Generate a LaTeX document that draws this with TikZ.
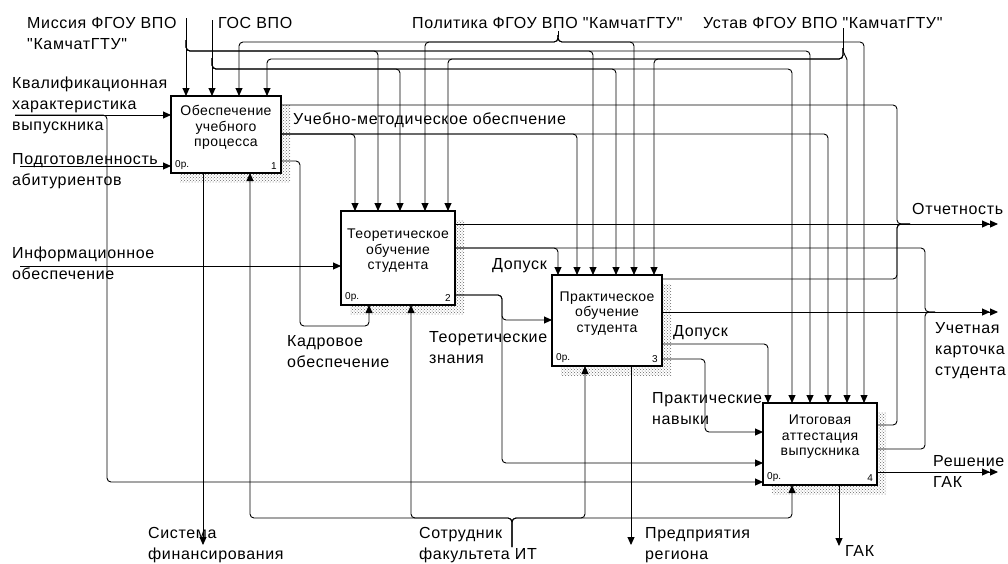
\documentclass[tikz,border=0pt]{standalone}
\usepackage{fontspec}
\newfontfamily\lsans{Liberation Sans}
\usetikzlibrary{arrows.meta}
\usetikzlibrary{patterns}

\tikzset{
  lbl/.style={anchor=north west, inner sep=0pt, align=left, font=\lsans\fontsize{16}{21}\selectfont\addfontfeature{LetterSpace=4}},
  con/.style={line width=0.9pt, rounded corners=4pt},
  arr/.style={con, -{Triangle[length=8pt,width=7pt]}},
  rarr/.style={con, {Triangle[length=8pt,width=7pt]}-},
  outarr/.style={con, -{Triangle[length=8pt,width=7pt]Triangle[length=8pt,width=7pt]}},
  act/.style={draw, line width=2pt, fill=white, inner sep=0pt, outer sep=0pt},
  acttext/.style={align=center, inner sep=0pt, font=\lsans\fontsize{14}{15.5}\selectfont\addfontfeature{LetterSpace=3}},
  corner/.style={inner sep=0pt, font=\lsans\fontsize{10}{10}\selectfont},
  shadow/.style={pattern=crosshatch dots, pattern color=black!60},
}

\begin{document}
\begin{tikzpicture}[x=1pt, y=-1pt]
\useasboundingbox (0,0) rectangle (1008,563);

% blocs
\foreach \n/\xa/\ya/\xb/\yb/\txt in {
  1/171/96/281/173/{Обеспечение\\учебного\\процесса},
  2/341/211/455/305/{Теоретическое\\обучение\\студента},
  3/552/275/662/366/{Практическое\\обучение\\студента},
  4/763/403/877/485/{Итоговая\\аттестация\\выпускника}} {
  \fill[shadow] (\xa+9,\ya+9) rectangle (\xb+9,\yb+9);
  \pgfmathsetmacro{\w}{\xb-\xa}
  \pgfmathsetmacro{\h}{\yb-\ya}
  \node[act, minimum width=\w pt, minimum height=\h pt] (b\n) at ({(\xa+\xb)/2},{(\ya+\yb)/2}) {};
  \node[acttext] (t\n) at ([yshift=7pt]b\n.center) {\txt};
  \node[corner, anchor=south west] (c\n) at ([xshift=4pt,yshift=3pt]b\n.south west) {0р.};
  \node[corner, anchor=south east] (n\n) at ([xshift=-4pt,yshift=3pt]b\n.south east) {\n};
}

% entrees
\coordinate (kval) at (15,115);
\coordinate (podg) at (20,166);
\coordinate (info) at (20,266);
\draw[arr] (kval) -- (kval -| b1.west);
\draw[arr] (kval) -- (107,115) -- (107,482) -- (107,482 -| b4.west);
\draw[arr] (podg) -- (podg -| b1.west);
\draw[arr] (info) -- (info -| b2.west);

% controles
\draw[arr] (186,18) -- (186,96);
\foreach \x/\y in {378/211,593/275,810/403}
  \draw[rarr] (\x,\y) -- (\x,51) -- (186,51) -- (186,40);
\draw[arr] (212,20) -- (212,96);
\foreach \x/\y in {400/211,616/275,792/403}
  \draw[rarr] (\x,\y) -- (\x,69) -- (212,69) -- (212,58);
\draw[con] (558,31) -- (558,37);
\foreach \x/\y in {239/96,425/211,634/275,864/403}
  \draw[rarr] (\x,\y) -- (\x,42) -- (558,42) -- (558,35);
\draw[con] (843,28) -- (843,50);
\foreach \x/\y in {267/96,448/211,654/275}
  \draw[rarr] (\x,\y) -- (\x,59) -- (843,59) -- (843,48);
\draw[rarr] (847,403) -- (847,64) to[out=90,in=-90] (843,48);

% sorties bloc 1
\draw[con] (b1.east |- 0,105) -- (897,105) -- (897,224) -- (910,224);
\foreach \x/\b in {355/2,577/3,828/4}
  \draw[arr] (b1.east |- 0,134) -- (\x,134) -- (\x,0 |- b\b.north);
\draw[arr] (b1.east |- 0,161) -- (300,161) -- (300,326) -- (369,326) -- (369,0 |- b2.south);
\draw[arr] (203,0 |- b1.south) -- (203,545);

% sorties bloc 2
\draw[outarr] (b2.east |- 0,224) -- (998,224);
\draw[con] (b2.east |- 0,248) -- (925,248) -- (925,312) -- (935,312);
\draw[arr] (b2.east |- 0,248) -- (558,248) -- (558,0 |- b3.north);
\draw[arr] (b2.east |- 0,295) -- (502,295) -- (502,320) -- (502,320 -| b3.west);
\draw[arr] (b2.east |- 0,295) -- (502,295) -- (502,463) -- (502,463 -| b4.west);

% sorties bloc 3
\draw[con] (b3.east |- 0,279) -- (897,279) -- (897,224) -- (910,224);
\draw[outarr] (b3.east |- 0,312) -- (998,312);
\draw[arr] (b3.east |- 0,344) -- (768,344) -- (768,0 |- b4.north);
\draw[arr] (b3.east |- 0,359) -- (705,359) -- (705,432) -- (705,432 -| b4.west);
\draw[arr] (631,0 |- b3.south) -- (631,545);

% sorties bloc 4
\draw[con] (b4.east |- 0,425) -- (897,425) -- (897,224) -- (910,224);
\draw[con] (b4.east |- 0,449) -- (925,449) -- (925,312) -- (935,312);
\draw[outarr] (b4.east |- 0,472) -- (998,472);
\draw[arr] (839,0 |- b4.south) -- (839,546);

% mecanismes
\coordinate (sotr) at (512,547);
\foreach \x/\b in {250/1,411/2,585/3,792/4}
  \draw[arr] (sotr) -- (512,518) -- (\x,518) -- (\x,0 |- b\b.south);

% libelles
\node[lbl] (lmiss) at (27,17) {Миссия ФГОУ ВПО\\"КамчатГТУ"};
\node[lbl] (lgos) at (218,17) {ГОС ВПО};
\node[lbl] (lpolit) at (412,17) {Политика ФГОУ ВПО "КамчатГТУ"};
\node[lbl] (lustav) at (703,17) {Устав ФГОУ ВПО "КамчатГТУ"};
\node[lbl] (lkval) at (12,77) {Квалификационная\\характеристика\\выпускника};
\node[lbl] (lpodg) at (12,153) {Подготовленность\\абитуриентов};
\node[lbl] (linfo) at (12,247) {Информационное\\обеспечение};
\node[lbl] (lucheb) at (293,113) {Учебно-методическое обеспчение};
\node[lbl] (lkadr) at (287,335) {Кадровое\\обеспечение};
\node[lbl] (ldop1) at (492,258) {Допуск};
\node[lbl] (lteor) at (429,331) {Теоретические\\знания};
\node[lbl] (ldop2) at (673,325) {Допуск};
\node[lbl] (lprakt) at (652,392) {Практические\\навыки};
\node[lbl] (lotch) at (912,203) {Отчетность};
\node[lbl] (lkart) at (935,322) {Учетная\\карточка\\студента};
\node[lbl] (lresh) at (933,455) {Решение\\ГАК};
\node[lbl] (lsist) at (148,527) {Система\\финансирования};
\node[lbl] (lsotr) at (419,527) {Сотрудник\\факультета ИТ};
\node[lbl] (lpred) at (645,527) {Предприятия\\региона};
\node[lbl] (lgak) at (845,545) {ГАК};

\end{tikzpicture}
\end{document}
